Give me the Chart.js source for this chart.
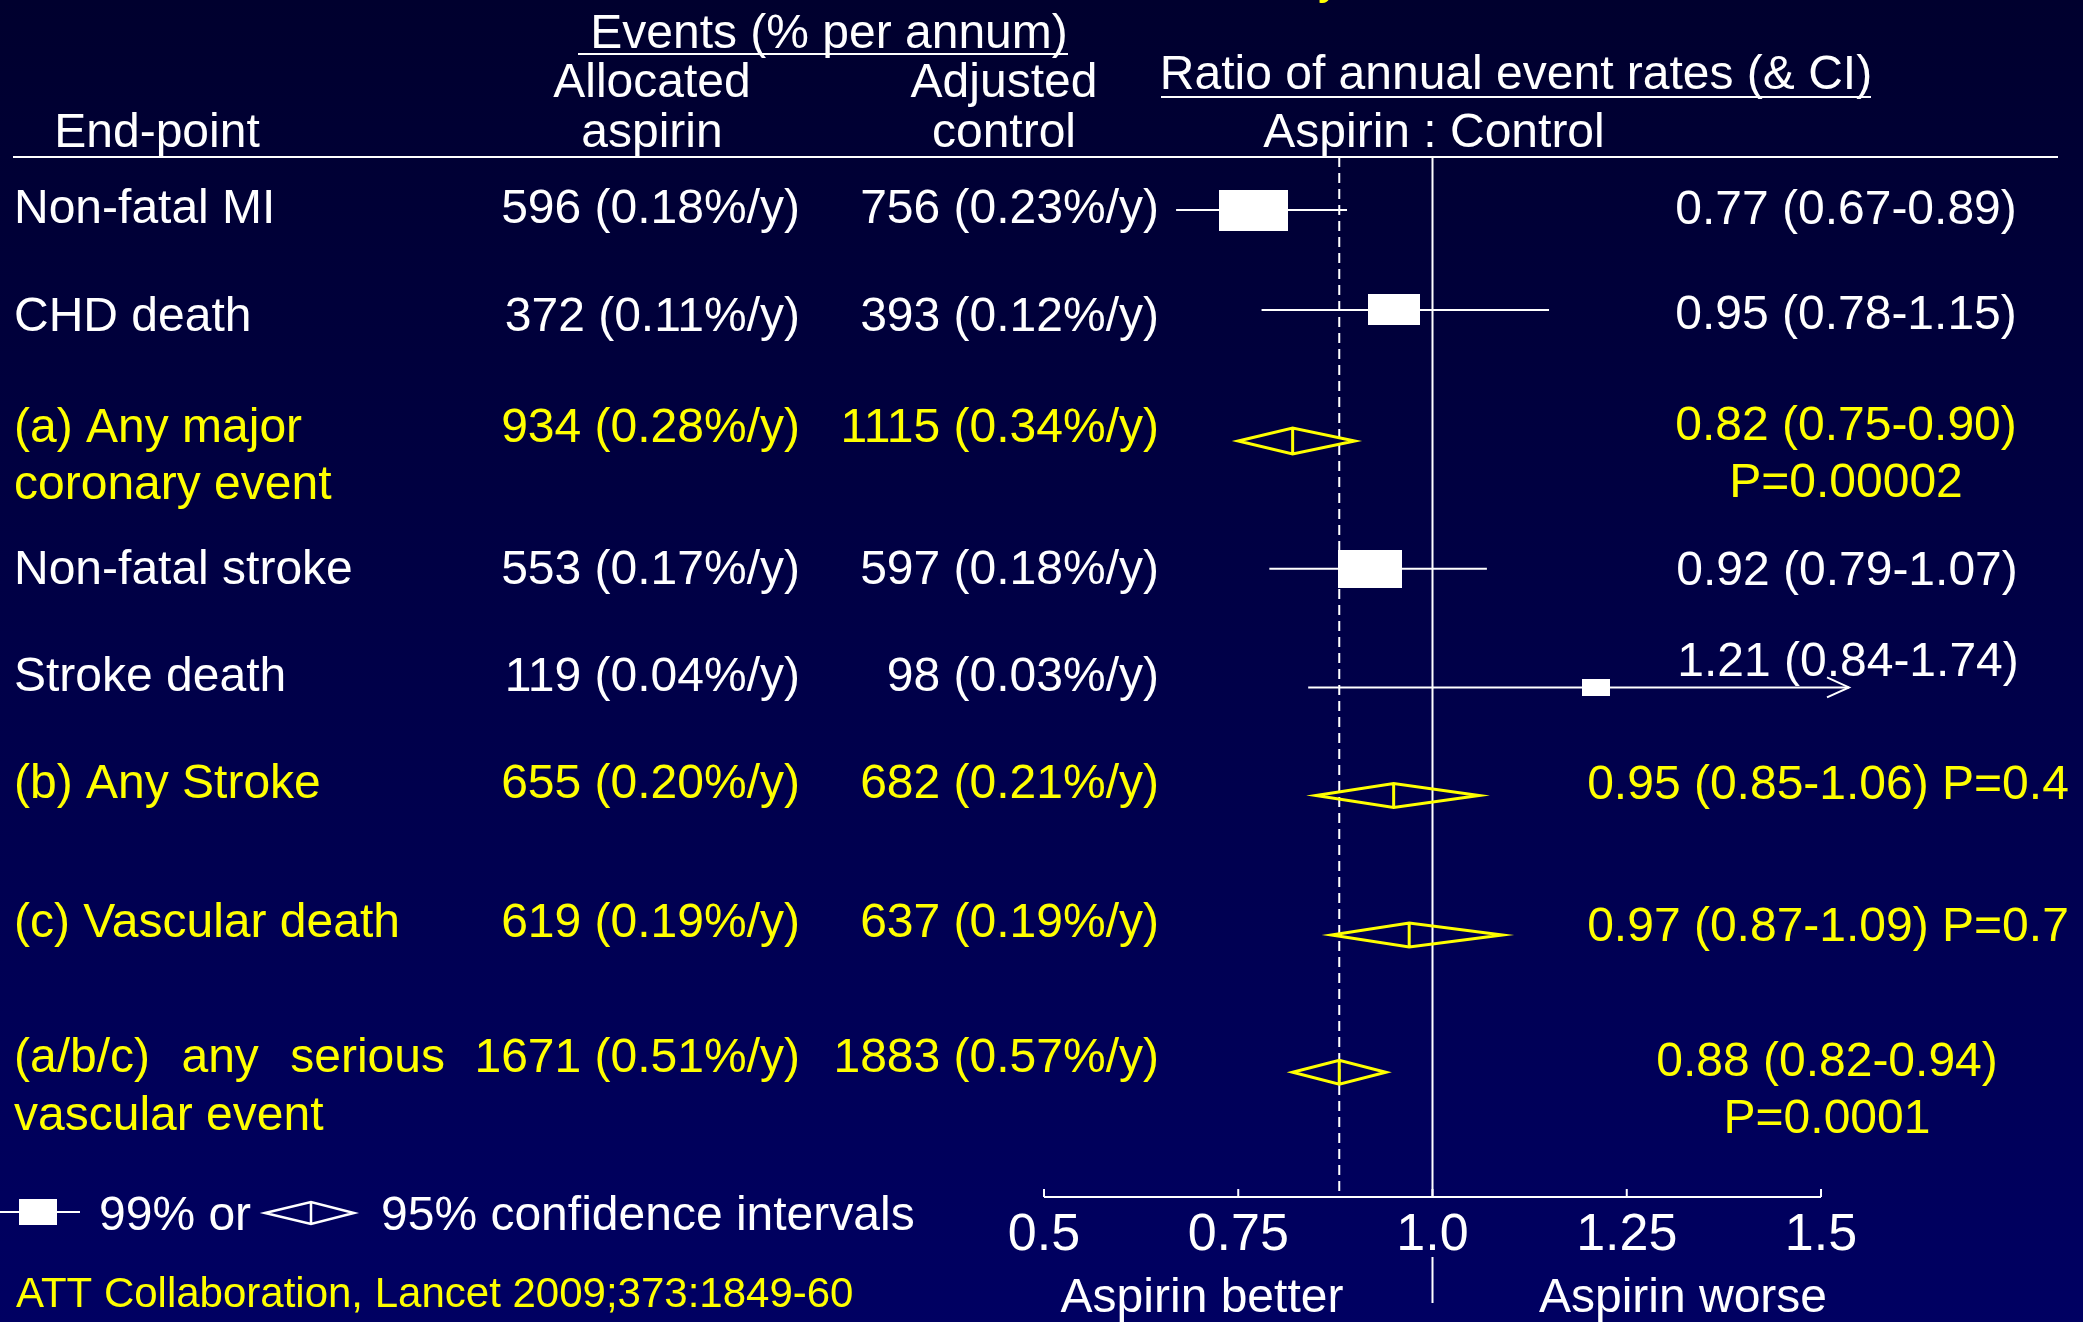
<!DOCTYPE html>
<html>
<head>
<meta charset="utf-8">
<script src="https://cdn.jsdelivr.net/npm/chart.js@4.4.1/dist/chart.umd.min.js"></script>
<style>
html,body{margin:0;padding:0;background:#000040;overflow:hidden}
canvas{display:block}
</style>
</head>
<body>
<canvas id="forest" width="2083" height="1322"></canvas>
<script>
// data
const endPoints=[["Non-fatal MI"],["CHD death"],["(a) Any major","coronary event"],["Non-fatal stroke"],["Stroke death"],["(b) Any Stroke"],["(c) Vascular death"],["(a/b/c) any serious","vascular event"]]
const aspirinEvents=[596,372,934,553,119,655,619,1671]
const aspirinRate=[0.18,0.11,0.28,0.17,0.04,0.20,0.19,0.51]
const controlEvents=[756,393,1115,597,98,682,637,1883]
const controlRate=[0.23,0.12,0.34,0.18,0.03,0.21,0.19,0.57]
const ratio=[0.77,0.95,0.82,0.92,1.21,0.95,0.97,0.88]
const ciLow=[0.67,0.78,0.75,0.79,0.84,0.85,0.87,0.82]
const ciHigh=[0.89,1.15,0.90,1.07,1.74,1.06,1.09,0.94]
const pValue=[null,null,"0.00002",null,null,"0.4","0.7","0.0001"]
const isSubtotal=[false,false,true,false,false,true,true,true]
const tickLabels=["0.5","0.75","1.0","1.25","1.5"]

// layout (slide positions, not data)
const rowSlot=[0.51,1.47,2.73,3.96,5.10,6.14,7.48,8.80]
const textBase=[223,331,442,584,691,798,937,1072]
const label2Base=[null,null,499,null,null,null,null,1130]
const ratioBase=[224,329,440,585,676,799,941,1076]
const ratio2Base=[null,null,497,null,null,null,null,1133]
const ratioX=[1846,1846,1846,1847,1848,1828,1828,1827]
const pInline=[false,false,false,false,false,true,true,false]
const justifyTo=[null,null,null,null,null,null,null,445]

const WHITE="#ffffff", YELLOW="#ffff00"
const FONT="'Liberation Sans', Arial, sans-serif"

const fmt2=v=>v.toFixed(2)

function boxImage(n){
  const w=Math.round(1.88*Math.sqrt(n)), h=Math.round(w*0.6)
  const cv=document.createElement("canvas")
  cv.width=w; cv.height=h
  const g=cv.getContext("2d")
  g.fillStyle=WHITE
  g.fillRect(0,0,w,h)
  return cv
}

function txt(c,s,x,y,color,align,size){
  c.fillStyle=color
  c.textAlign=align||"left"
  c.textBaseline="alphabetic"
  c.font=(size||48)+"px "+FONT
  c.fillText(s,x,y)
}

function justify(c,words,x0,x1,y,color){
  c.fillStyle=color; c.textAlign="left"; c.font="48px "+FONT
  const widths=words.map(w=>c.measureText(w).width)
  const gap=(x1-x0-widths.reduce((a,b)=>a+b,0))/(words.length-1)
  let x=x0
  words.forEach((w,k)=>{ c.fillText(w,x,y); x+=widths[k]+gap })
}

function diamond(c,xl,xm,xr,y,hh,color){
  c.strokeStyle=color; c.lineWidth=3; c.lineJoin="miter"
  c.beginPath()
  c.moveTo(xl,y); c.lineTo(xm,y-hh); c.lineTo(xr,y); c.lineTo(xm,y+hh); c.closePath()
  c.moveTo(xm,y-hh); c.lineTo(xm,y+hh)
  c.stroke()
}

const sqRows=[0,1,2,3,4,5,6,7].filter(i=>!isSubtotal[i])
const dmRows=[0,1,2,3,4,5,6,7].filter(i=>isSubtotal[i])

const forestDecor={
  id:"forestDecor",
  beforeDraw(chart){
    const c=chart.ctx
    const g=c.createLinearGradient(0,0,0,chart.height)
    g.addColorStop(0,"#00002e")
    g.addColorStop(1,"#000062")
    c.save(); c.fillStyle=g; c.fillRect(0,0,chart.width,chart.height); c.restore()
  },
  beforeDatasetsDraw(chart){
    const c=chart.ctx, x=chart.scales.x, a=chart.chartArea
    c.save()
    c.strokeStyle=WHITE; c.lineWidth=2
    // header rule
    c.beginPath(); c.moveTo(13,a.top); c.lineTo(2058,a.top); c.stroke()
    // axis line + upward ticks
    c.beginPath()
    c.moveTo(x.getPixelForValue(x.min),a.bottom); c.lineTo(x.getPixelForValue(x.max),a.bottom)
    x.ticks.forEach(t=>{ const px=x.getPixelForValue(t.value); c.moveTo(px,a.bottom); c.lineTo(px,a.bottom-8) })
    c.stroke()
    // line of no effect
    const one=x.getPixelForValue(1)
    c.beginPath(); c.moveTo(one,a.top); c.lineTo(one,a.bottom); c.moveTo(one,1257); c.lineTo(one,1303); c.stroke()
    // overall estimate (dashed)
    const ov=x.getPixelForValue(ratio[7])
    c.setLineDash([10,6])
    c.beginPath(); c.moveTo(ov,a.top); c.lineTo(ov,a.bottom); c.stroke()
    c.restore()
  },
  afterDatasetsDraw(chart){
    const c=chart.ctx, x=chart.scales.x, y=chart.scales.y, a=chart.chartArea
    c.save()
    dmRows.forEach(i=>{
      diamond(c,x.getPixelForValue(ciLow[i]),x.getPixelForValue(ratio[i]),x.getPixelForValue(ciHigh[i]),y.getPixelForValue(rowSlot[i]),i==2?13:12,YELLOW)
    })
    // arrow for CI running off the scale
    sqRows.forEach(i=>{
      if(ciHigh[i]>x.max){
        const py=y.getPixelForValue(rowSlot[i]), tip=a.right+28
        c.strokeStyle=WHITE; c.lineWidth=2
        c.beginPath(); c.moveTo(tip-22,py-10); c.lineTo(tip,py); c.lineTo(tip-22,py+10); c.stroke()
      }
    })
    c.restore()
  },
  afterDraw(chart){
    const c=chart.ctx
    c.save()
    // headings
    txt(c,"Events (% per annum)",829,48,WHITE,"center")
    c.strokeStyle=WHITE; c.lineWidth=2
    c.beginPath(); c.moveTo(578,54); c.lineTo(1068,54); c.stroke()
    txt(c,"Allocated",652,97,WHITE,"center")
    txt(c,"aspirin",652,147,WHITE,"center")
    txt(c,"Adjusted",1004,97,WHITE,"center")
    txt(c,"control",1004,147,WHITE,"center")
    txt(c,"End-point",157,147,WHITE,"center")
    txt(c,"Ratio of annual event rates (& CI)",1516,89,WHITE,"center")
    c.beginPath(); c.moveTo(1161,97); c.lineTo(1871,97); c.stroke()
    txt(c,"Aspirin : Control",1434,147,WHITE,"center")
    txt(c,"y",1318,-7,YELLOW,"left")

    // table rows
    endPoints.forEach((lab,i)=>{
      const col=isSubtotal[i]?YELLOW:WHITE
      if(justifyTo[i]) justify(c,lab[0].split(/\s+/),14,justifyTo[i],textBase[i],col)
      else txt(c,lab[0],14,textBase[i],col)
      if(lab[1]) txt(c,lab[1],14,label2Base[i],col)
      txt(c,`${aspirinEvents[i]} (${fmt2(aspirinRate[i])}%/y)`,800,textBase[i],col,"right")
      txt(c,`${controlEvents[i]} (${fmt2(controlRate[i])}%/y)`,1159,textBase[i],col,"right")
      let r=`${fmt2(ratio[i])} (${fmt2(ciLow[i])}-${fmt2(ciHigh[i])})`
      if(pValue[i] && pInline[i]) r+=` P=${pValue[i]}`
      txt(c,r,ratioX[i],ratioBase[i],col,"center")
      if(pValue[i] && !pInline[i]) txt(c,`P=${pValue[i]}`,ratioX[i],ratio2Base[i],col,"center")
    })

    // legend
    c.strokeStyle=WHITE; c.lineWidth=2
    c.beginPath(); c.moveTo(0,1212); c.lineTo(80,1212); c.stroke()
    c.fillStyle=WHITE; c.fillRect(19,1199,38,26)
    txt(c,"99% or",99,1230,WHITE)
    c.lineWidth=2.5
    c.beginPath()
    c.moveTo(265,1213); c.lineTo(311,1202); c.lineTo(354,1213); c.lineTo(311,1224); c.closePath()
    c.moveTo(311,1202); c.lineTo(311,1224)
    c.stroke()
    txt(c,"95% confidence intervals",381,1230,WHITE)

    // x axis captions and source
    txt(c,"Aspirin better",1202,1312,WHITE,"center")
    txt(c,"Aspirin worse",1683,1312,WHITE,"center")
    txt(c,"ATT Collaboration, Lancet 2009;373:1849-60",16,1307,YELLOW,"left",42)
    c.restore()
  }
}

const datasets=[{
  label:"ratio",
  data:sqRows.map(i=>({x:ratio[i],y:rowSlot[i]})),
  pointStyle:sqRows.map(i=>boxImage(aspirinEvents[i]+controlEvents[i])),
  pointRadius:10,
  order:0
}]
sqRows.forEach(i=>{
  datasets.push({
    label:endPoints[i][0],
    data:[{x:ciLow[i],y:rowSlot[i]},{x:ciHigh[i],y:rowSlot[i]}],
    showLine:true,
    borderColor:WHITE,
    borderWidth:2,
    pointRadius:0,
    order:1,
    clip:{left:false,top:false,right:28,bottom:false}
  })
})

const chartForest=new Chart(document.getElementById("forest"),{
  type:"scatter",
  data:{datasets:datasets},
  options:{
    responsive:false,
    animation:false,
    events:[],
    layout:{padding:{left:1044,right:262,top:157,bottom:0}},
    scales:{
      x:{
        type:"linear",
        min:0.5,
        max:1.5,
        grid:{display:false,drawTicks:false},
        border:{display:false},
        ticks:{
          stepSize:0.25,
          padding:7,
          color:WHITE,
          font:{size:52,family:FONT},
          maxRotation:0,
          autoSkip:false,
          callback:(v,idx)=>tickLabels[idx]
        },
        afterFit:s=>{ s.height=125 }
      },
      y:{display:false,min:0,max:10,reverse:true}
    },
    plugins:{legend:{display:false},tooltip:{enabled:false}}
  },
  plugins:[forestDecor]
})
</script>
</body>
</html>
